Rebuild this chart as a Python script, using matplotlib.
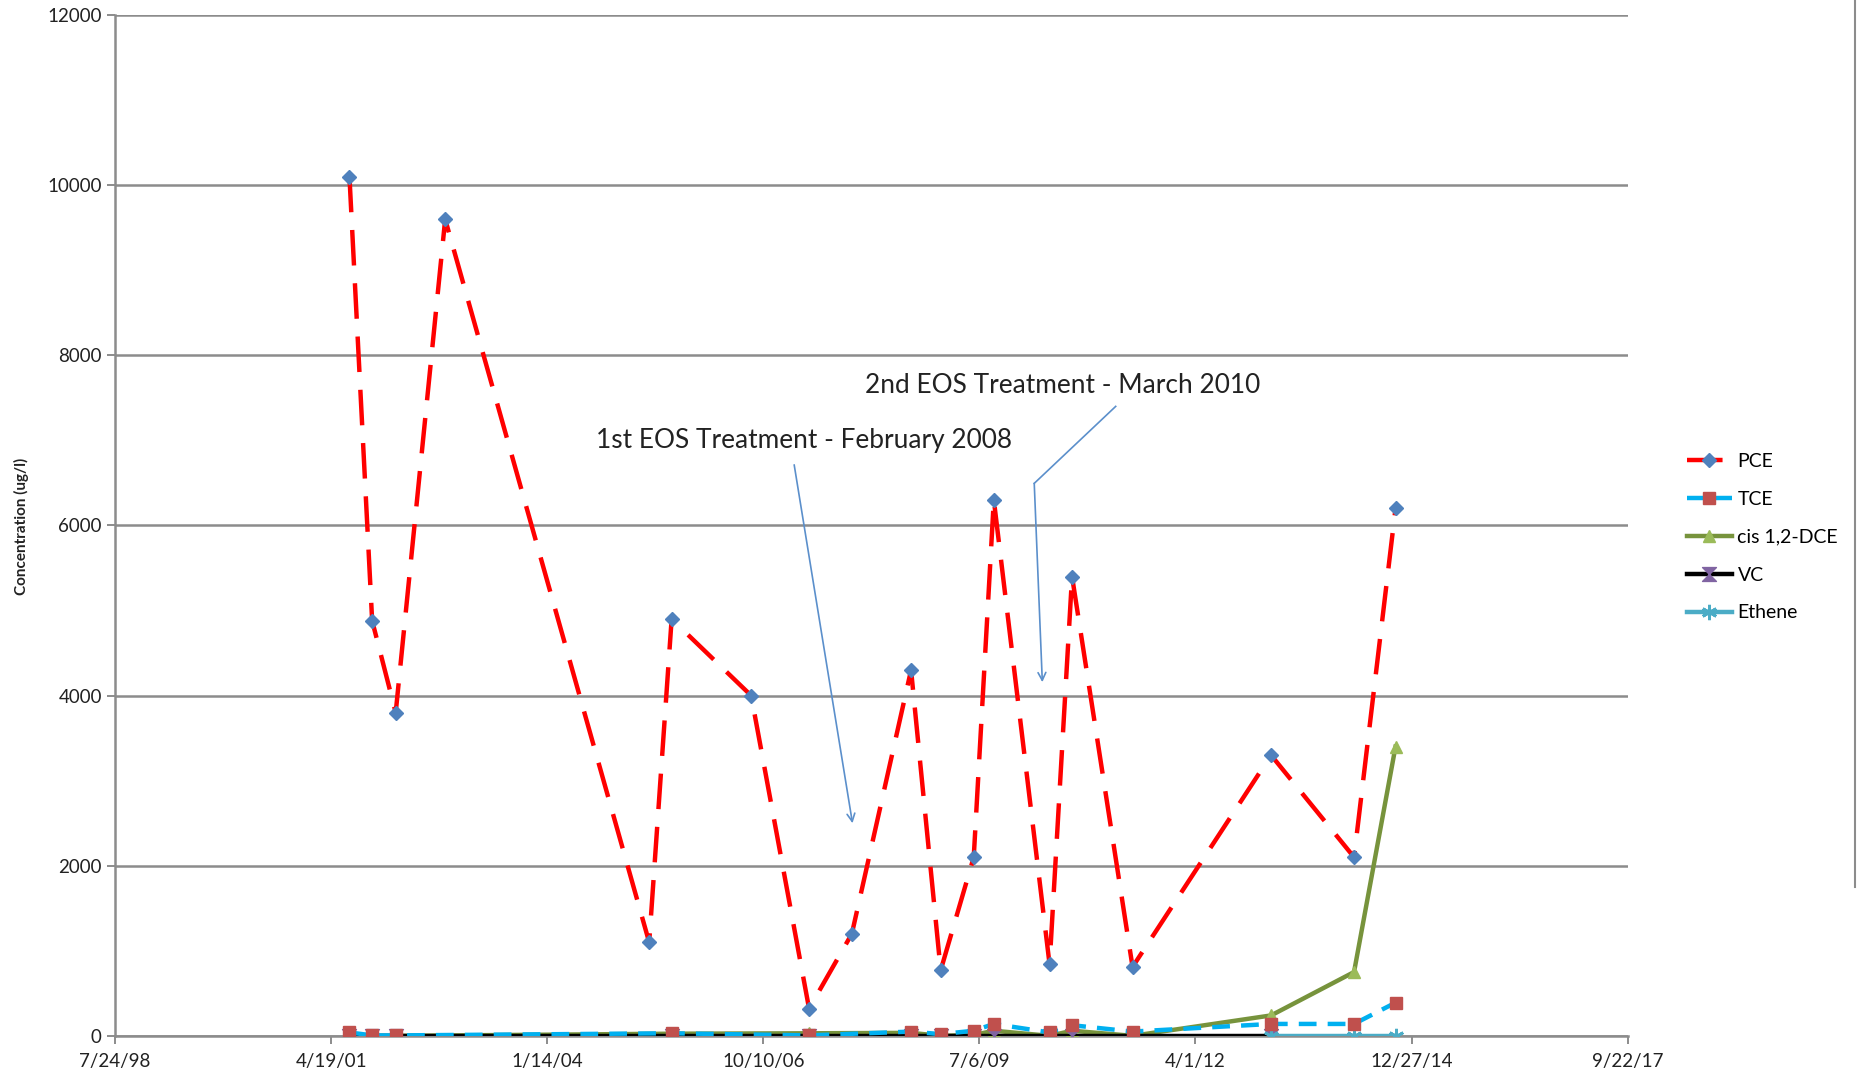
import numpy as np
import matplotlib
matplotlib.use("Agg")
import matplotlib.pyplot as plt
from matplotlib.path import Path

plt.rcParams['font.family'] = ['Lato', 'DejaVu Sans']

# sample dates
dates_pce = ['2001-07-13', '2001-10-26', '2002-02-12', '2002-09-29', '2005-04-30',
             '2005-08-12', '2006-08-15', '2007-05-10', '2007-11-24', '2008-08-24',
             '2009-01-08', '2009-06-10', '2009-09-11', '2010-05-27', '2010-09-08',
             '2011-06-15', '2013-03-17', '2014-04-05', '2014-10-14']
dates_other = ['2001-07-13', '2001-10-26', '2002-02-12', '2005-08-12', '2007-05-10',
               '2008-08-24', '2009-01-08', '2009-06-10', '2009-09-11', '2010-05-27',
               '2010-09-08', '2011-06-15', '2013-03-17', '2014-04-05', '2014-10-14']

pce = [10100, 4880, 3800, 9600, 1100, 4900, 4000, 320, 1200, 4300,
       770, 2100, 6300, 840, 5400, 810, 3300, 2100, 6200]
tce = [40, 5, 5, 30, 5, 50, 20, 60, 140, 40, 125, 50, 140, 140, 390]
dce = [0, 0, 0, 25, 30, 35, 0, 10, 60, 0, 60, 0, 240, 750, 3400]
vc = [0] * 13
ethene = [0, 0, 0]

tick_dates = ['1998-07-24', '2001-04-19', '2004-01-14', '2006-10-10',
              '2009-07-06', '2012-04-01', '2014-12-27', '2017-09-22']
tick_labels = ['7/24/98', '4/19/01', '1/14/04', '10/10/06',
               '7/6/09', '4/1/12', '12/27/14', '9/22/17']

def d(lst):
    return [np.datetime64(s) for s in lst]

x_pce = d(dates_pce)
x_oth = d(dates_other)

fig = plt.figure(figsize=(18.58, 10.79), dpi=100)
ax = fig.add_axes([0.0619, 0.040, 0.8141, 0.946])

lw = 3.2
# hourglass marker for VC
hourglass = Path([(-1, 1), (1, 1), (-1, -1), (1, -1), (-1, 1)],
                 [Path.MOVETO, Path.LINETO, Path.LINETO, Path.LINETO, Path.CLOSEPOLY])

ax.plot(x_pce, pce, color='#FF0000', lw=lw, dashes=(8, 4), marker='D',
        ms=7.5, mfc='#4F81BD', mec='#4F81BD', label='PCE', zorder=5)
ax.plot(x_oth, tce, color='#00B0F0', lw=lw, dashes=(4, 2.5), marker='s',
        ms=9, mfc='#C0504D', mec='#C0504D', label='TCE', zorder=4)
ax.plot(x_oth, dce, color='#77933C', lw=lw, marker='^',
        ms=9, mfc='#9BBB59', mec='#9BBB59', label='cis 1,2-DCE', zorder=3)
ax.plot(x_oth[:13], vc, color='#000000', lw=lw, marker=hourglass,
        ms=10, mfc='#8064A2', mec='#8064A2', label='VC', zorder=3)
ax.plot(x_oth[-3:], ethene, color='#4BACC6', lw=lw, marker=(6, 2, 0),
        ms=11, mew=2, mec='#4BACC6', label='Ethene', zorder=3)

ax.set_xlim(np.datetime64('1998-07-24'), np.datetime64('2017-09-22'))
ax.set_ylim(0, 12000)
ax.set_xticks(d(tick_dates))
ax.set_xticklabels(tick_labels)
ax.set_yticks(range(0, 12001, 2000))
ax.yaxis.grid(True, color='#8C8C8C', lw=1.8)
ax.set_axisbelow(True)
for s in ['top', 'right']:
    ax.spines[s].set_visible(False)
for s in ['left', 'bottom']:
    ax.spines[s].set_color('#8C8C8C')
    ax.spines[s].set_linewidth(1.8)
ax.tick_params(axis='both', colors='#8C8C8C', labelcolor='#222222',
               labelsize=13.5, length=6, width=1.4)
ax.tick_params(axis='x', pad=6)

fig.text(0.0115, 0.512, 'Concentration (ug/l)', rotation=90, ha='center', va='center',
         fontsize=11, fontweight='bold', color='#222222')

# treatment annotations
acol = '#5B8FCB'
ax.text(np.datetime64('2007-04-18'), 7000, '1st EOS Treatment - February 2008',
        ha='center', va='center', fontsize=18.9, color='#222222')
ax.annotate('', xy=(np.datetime64('2007-11-29'), 2467),
            xytext=(np.datetime64('2007-02-28'), 6745),
            arrowprops=dict(arrowstyle='->', color=acol, lw=1.2, mutation_scale=14))
ax.text(np.datetime64('2010-07-26'), 7650, '2nd EOS Treatment - March 2010',
        ha='center', va='center', fontsize=18.9, color='#222222')
ax.plot([np.datetime64('2011-03-29'), np.datetime64('2010-03-17')], [7400, 6495],
        color=acol, lw=1.2)
ax.annotate('', xy=(np.datetime64('2010-04-24'), 4125),
            xytext=(np.datetime64('2010-03-17'), 6495),
            arrowprops=dict(arrowstyle='->', color=acol, lw=1.2, mutation_scale=14,
                            shrinkA=0))

fig.legend(loc='center left', bbox_to_anchor=(0.8985, 0.502), frameon=False,
           fontsize=14, handlelength=2.3, labelspacing=1.07, handletextpad=0.3)

# right border of the chart frame
fig.add_artist(plt.Line2D([0.9985, 0.9985], [1.0, 0.178], color='#8C8C8C', lw=1.5))

fig.savefig('out.png', dpi=100)
